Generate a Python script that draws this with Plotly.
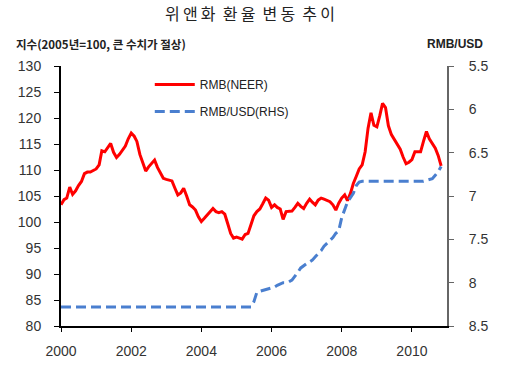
import plotly.graph_objects as go
import pandas as pd

title_text = "위앤화 환율 변동 추이"
left_label = "지수(2005년=100, 큰 수치가 절상)"
right_label = "RMB/USD"

neer_start = "2000-01-01"
neer_values = [
    # 2000
    103.3, 104.3, 104.6, 106.7, 105.3, 106.0, 107.0, 107.8, 109.3, 109.6, 109.6, 109.9,
    # 2001
    110.2, 111.0, 113.7, 113.5, 114.2, 115.1, 113.4, 112.4, 113.0, 113.8, 114.6, 116.0,
    # 2002
    117.1, 116.5, 115.5, 113.0, 111.5, 109.8, 110.6, 111.2, 111.9, 110.5, 109.5, 108.4,
    # 2003
    108.2, 108.1, 107.9, 106.5, 105.2, 105.6, 106.5, 105.0, 103.3, 102.9, 102.3, 101.0,
    # 2004
    100.1, 100.7, 101.3, 101.8, 102.6, 102.0, 101.8, 102.0, 101.5, 99.7, 97.8, 96.9,
    # 2005
    97.1, 96.9, 96.7, 97.6, 97.8, 99.5, 101.2, 102.0, 102.5, 103.5, 104.6, 104.2,
    # 2006
    102.8, 103.3, 102.8, 102.5, 100.5, 102.0, 102.0, 102.1, 102.8, 103.6, 103.0, 102.6,
    # 2007
    103.6, 104.4, 103.8, 103.3, 104.2, 104.6, 104.4, 104.2, 103.9, 103.3, 102.3, 103.6,
    # 2008
    104.6, 105.2, 104.1, 105.5, 107.4, 108.8, 110.2, 111.0, 113.5, 118.0, 121.0, 118.6,
    # 2009
    118.3, 120.5, 122.8, 122.0, 118.5, 116.8, 115.8, 115.0, 114.0, 112.5, 111.2, 111.5,
    # 2010
    112.0, 113.5, 113.5, 113.5, 115.5, 117.4, 116.0, 115.0, 114.2, 112.8, 110.8,
]

usd_dates = [
    "2000-01-01", "2005-06-01", "2005-07-01", "2005-08-01", "2005-09-01", "2005-10-01",
    "2005-11-01", "2005-12-01", "2006-01-01", "2006-02-01", "2006-03-01", "2006-04-01",
    "2006-05-01", "2006-06-01", "2006-07-01", "2006-08-01", "2006-09-01", "2006-10-01",
    "2006-11-01", "2006-12-01", "2007-01-01", "2007-02-01", "2007-03-01", "2007-04-01",
    "2007-05-01", "2007-06-01", "2007-07-01", "2007-08-01", "2007-09-01", "2007-10-01",
    "2007-11-01", "2007-12-01", "2008-01-01", "2008-02-01", "2008-03-01", "2008-04-01",
    "2008-05-01", "2008-06-01", "2008-07-01", "2008-08-01", "2010-05-01", "2010-06-01",
    "2010-07-01", "2010-08-01", "2010-09-01", "2010-10-01", "2010-11-01",
]
usd_values = [
    8.28, 8.28, 8.22, 8.11, 8.10, 8.09,
    8.08, 8.07, 8.06, 8.05, 8.03, 8.01,
    8.00, 8.00, 7.99, 7.97, 7.93, 7.88,
    7.83, 7.80, 7.78, 7.76, 7.74, 7.70,
    7.67, 7.63, 7.58, 7.55, 7.52, 7.48,
    7.43, 7.40, 7.25, 7.15, 7.07, 7.02,
    6.97, 6.88, 6.84, 6.83, 6.83, 6.82,
    6.81, 6.80, 6.76, 6.72, 6.66,
]

neer_dates = pd.date_range(neer_start, periods=len(neer_values), freq="MS")

left_ticks = [80, 85, 90, 95, 100, 105, 110, 115, 120, 125, 130]
right_ticks = [5.5, 6, 6.5, 7, 7.5, 8, 8.5]
right_tick_text = ["5.5", "6", "6.5", "7", "7.5", "8", "8.5"]
x_tick_years = ["2000", "2002", "2004", "2006", "2008", "2010"]

fig = go.Figure()
fig.add_trace(go.Scatter(
    x=neer_dates, y=neer_values, name="RMB(NEER)", mode="lines",
    line=dict(color="#FF0000", width=3), legendgroup="a",
))
fig.add_trace(go.Scatter(
    x=usd_dates, y=usd_values, name="RMB/USD(RHS)", mode="lines", yaxis="y2",
    line=dict(color="#4A7FCF", width=3, dash="10px,5px"), legendgroup="b",
))

font_family = "Liberation Sans, Arial, sans-serif"
cjk = "Noto Sans CJK KR"
# spaced-out title like the reference
words = title_text.split(" ")
spaced_title = "\u00a0\u00a0".join("\u2009".join(w) for w in words)

fig.update_layout(
    width=513, height=372,
    margin=dict(l=61, r=66, t=66, b=46),
    paper_bgcolor="white", plot_bgcolor="white",
    font=dict(family=font_family, size=14, color="#333333"),
    showlegend=True,
    legend=dict(
        x=0.23, y=0.985, xanchor="left", yanchor="top",
        bgcolor="rgba(0,0,0,0)", font=dict(size=12, color="#222222"),
        tracegroupgap=8, itemwidth=40,
    ),
    xaxis=dict(
        type="date", range=["2000-01-01", "2011-01-01"],
        tickvals=[f"{y}-01-01" for y in x_tick_years], ticktext=x_tick_years,
        showgrid=False, zeroline=False,
        showline=True, linecolor="black", linewidth=2,
        ticks="outside", ticklen=4, tickcolor="black", tickwidth=1,
        ticklabelstandoff=7,
        tickfont=dict(size=14, color="#333333"),
    ),
    yaxis=dict(
        range=[80, 130], tickvals=left_ticks,
        showgrid=False, zeroline=False,
        showline=True, linecolor="black", linewidth=2,
        ticks="outside", ticklen=5, tickcolor="black", tickwidth=1,
        ticklabelstandoff=10,
        tickfont=dict(size=14, color="#333333"),
    ),
    yaxis2=dict(
        overlaying="y", side="right", range=[8.5, 5.5],
        tickvals=right_ticks, ticktext=right_tick_text,
        showgrid=False, zeroline=False,
        showline=True, linecolor="#666666", linewidth=2,
        ticks="outside", ticklen=5, tickcolor="#666666", tickwidth=1,
        ticklabelstandoff=12,
        tickfont=dict(size=14, color="#333333"),
    ),
    annotations=[
        dict(text=spaced_title, xref="paper", yref="paper", x=0.49, y=1.0,
             yshift=53, xanchor="center", yanchor="middle", showarrow=False,
             font=dict(size=16, color="#222222", family=cjk)),
        dict(text="<b>" + left_label + "</b>", xref="paper", yref="paper", x=0, y=1.0,
             xshift=-47, yshift=22, xanchor="left", yanchor="middle", showarrow=False,
             font=dict(size=11.5, color="#222222", family=cjk)),
        dict(text="<b>" + right_label + "</b>", xref="paper", yref="paper", x=1.0, y=1.0,
             xshift=38, yshift=22, xanchor="right", yanchor="middle", showarrow=False,
             font=dict(size=12, color="#222222", family=font_family)),
    ],
)

fig.write_html("out.html", config={"displayModeBar": False},
               post_script="document.body.style.margin='0px';")
